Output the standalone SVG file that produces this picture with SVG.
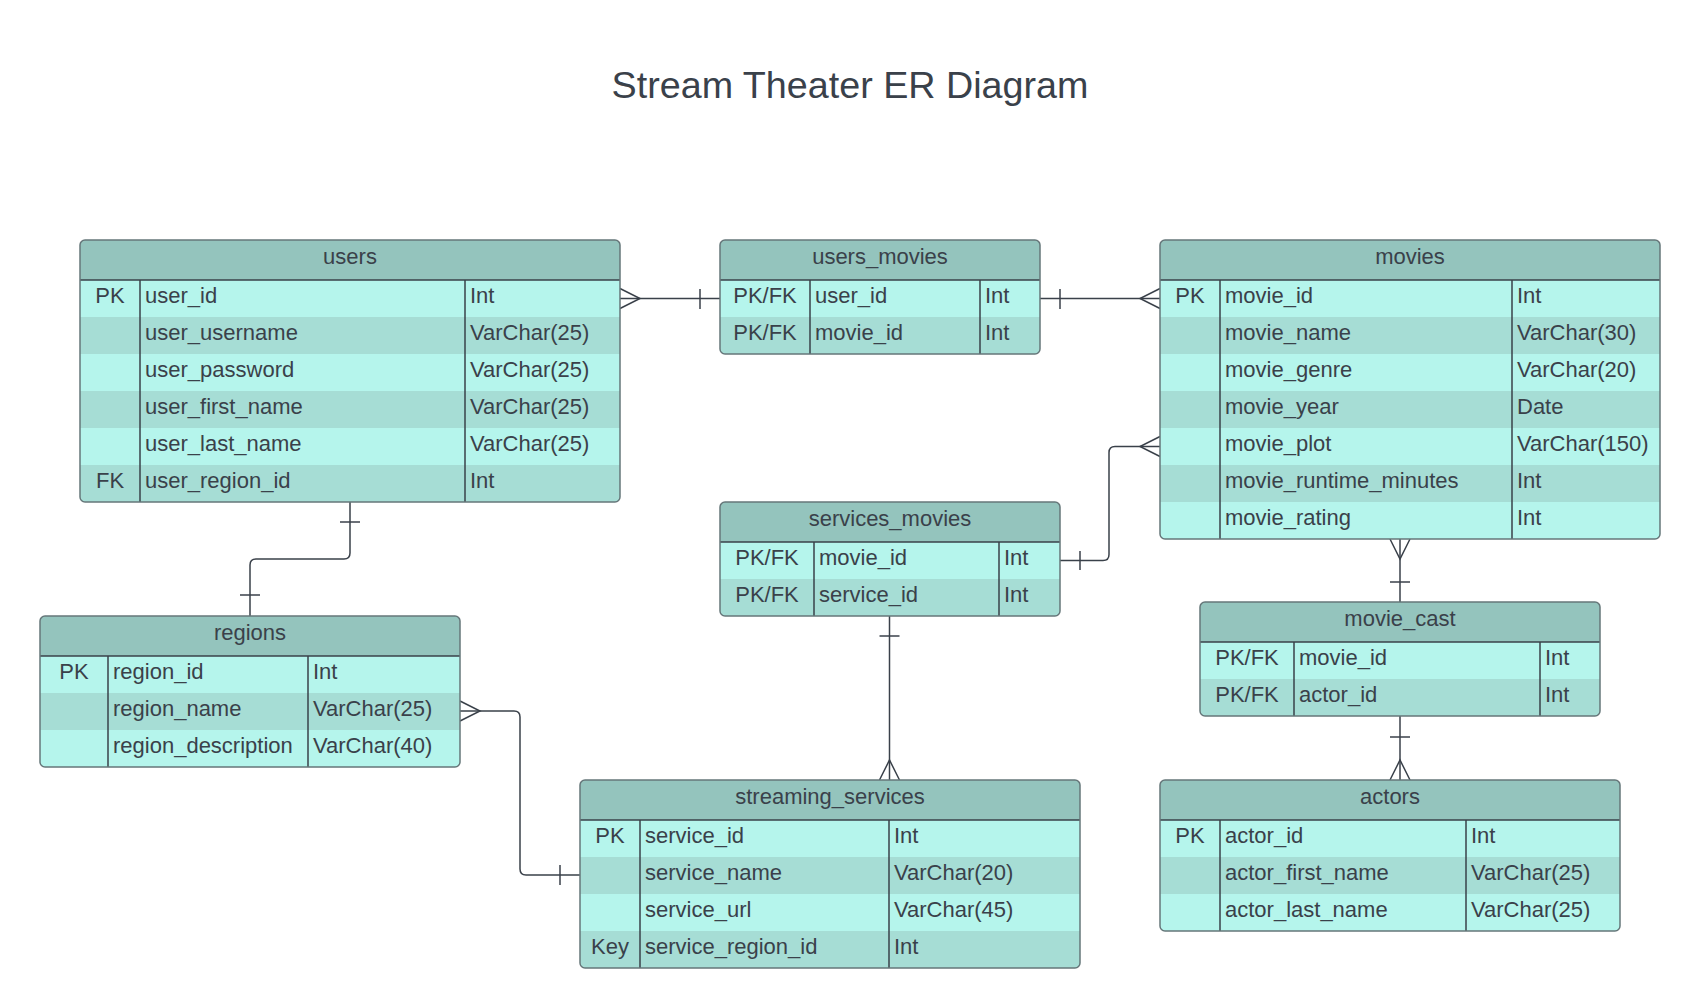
<svg xmlns="http://www.w3.org/2000/svg" width="1700" height="1008" viewBox="0 0 1700 1008">
<style>
.bg{fill:#ffffff}
.hdr{fill:#94c4bd}
.r1{fill:#b5f5ec}
.r2{fill:#a6ddd5}
.frame{fill:none;stroke:#66777a;stroke-width:1.5}
.dv{stroke:#3a414a;stroke-width:1.5;fill:none}
.t{font-family:"Liberation Sans",Arial,sans-serif;font-size:22px;fill:#3a414a}
.m{text-anchor:middle}
.title{font-family:"Liberation Sans",Arial,sans-serif;font-size:37.7px;fill:#3a414a;text-anchor:middle}
.conn{fill:none;stroke:#3a414a;stroke-width:1.5}
</style>
<defs>
<clipPath id="cu"><rect x="80" y="240" width="540" height="262" rx="5"/></clipPath>
<clipPath id="cum"><rect x="720" y="240" width="320" height="114" rx="5"/></clipPath>
<clipPath id="cmv"><rect x="1160" y="240" width="500" height="299" rx="5"/></clipPath>
<clipPath id="crg"><rect x="40" y="616" width="420" height="151" rx="5"/></clipPath>
<clipPath id="csm"><rect x="720" y="502" width="340" height="114" rx="5"/></clipPath>
<clipPath id="cmc"><rect x="1200" y="602" width="400" height="114" rx="5"/></clipPath>
<clipPath id="css"><rect x="580" y="780" width="500" height="188" rx="5"/></clipPath>
<clipPath id="cac"><rect x="1160" y="780" width="460" height="151" rx="5"/></clipPath>
</defs>
<rect class="bg" x="0" y="0" width="1700" height="1008"/>
<text class="title" x="850" y="97.5">Stream Theater ER Diagram</text>

<g id="connectors">
  <!-- users - users_movies -->
  <path class="conn" d="M620 298.5 H720"/>
  <path class="conn" d="M620 288.5 L640 298.5 L620 308.5"/>
  <path class="conn" d="M700 289 V309"/>
  <!-- users_movies - movies -->
  <path class="conn" d="M1040 298.5 H1160"/>
  <path class="conn" d="M1060 289 V309"/>
  <path class="conn" d="M1160 288.5 L1140 298.5 L1160 308.5"/>
  <!-- users - regions -->
  <path class="conn" d="M350 502 V553 Q350 559 344 559 H256 Q250 559 250 565 V616"/>
  <path class="conn" d="M340 522 H360"/>
  <path class="conn" d="M240 595 H260"/>
  <!-- regions - streaming_services -->
  <path class="conn" d="M460 711 H514 Q520 711 520 717 V869 Q520 875 526 875 H580"/>
  <path class="conn" d="M460 701 L480 711 L460 721"/>
  <path class="conn" d="M560 865 V885"/>
  <!-- services_movies - movies -->
  <path class="conn" d="M1060 560.5 H1103 Q1109 560.5 1109 554.5 V452.5 Q1109 446.5 1115 446.5 H1160"/>
  <path class="conn" d="M1080 551 V570"/>
  <path class="conn" d="M1160 436.5 L1140 446.5 L1160 456.5"/>
  <!-- services_movies - streaming_services -->
  <path class="conn" d="M889.5 616 V780"/>
  <path class="conn" d="M879.5 636 H899.5"/>
  <path class="conn" d="M879.5 780 L889.5 760 L899.5 780"/>
  <!-- movies - movie_cast -->
  <path class="conn" d="M1400 539 V602"/>
  <path class="conn" d="M1390 539 L1400 559 L1410 539"/>
  <path class="conn" d="M1390 582 H1410"/>
  <!-- movie_cast - actors -->
  <path class="conn" d="M1400 716 V780"/>
  <path class="conn" d="M1390 737 H1410"/>
  <path class="conn" d="M1390 780 L1400 760 L1410 780"/>
</g>

<g id="users">
  <g clip-path="url(#cu)">
    <rect class="hdr" x="80" y="240" width="540" height="40"/>
    <rect class="r1" x="80" y="280" width="540" height="37"/>
    <rect class="r2" x="80" y="317" width="540" height="37"/>
    <rect class="r1" x="80" y="354" width="540" height="37"/>
    <rect class="r2" x="80" y="391" width="540" height="37"/>
    <rect class="r1" x="80" y="428" width="540" height="37"/>
    <rect class="r2" x="80" y="465" width="540" height="37"/>
  </g>
  <path class="dv" d="M80 280 H620 M140 280 V502 M465 280 V502"/>
  <rect class="frame" x="80" y="240" width="540" height="262" rx="5"/>
  <text class="t m" x="350" y="264">users</text>
  <text class="t m" x="110" y="302.7">PK</text>
  <text class="t" x="145" y="302.7">user_id</text><text class="t" x="470" y="302.7">Int</text>
  <text class="t" x="145" y="339.7">user_username</text><text class="t" x="470" y="339.7">VarChar(25)</text>
  <text class="t" x="145" y="376.7">user_password</text><text class="t" x="470" y="376.7">VarChar(25)</text>
  <text class="t" x="145" y="413.7">user_first_name</text><text class="t" x="470" y="413.7">VarChar(25)</text>
  <text class="t" x="145" y="450.7">user_last_name</text><text class="t" x="470" y="450.7">VarChar(25)</text>
  <text class="t m" x="110" y="487.7">FK</text>
  <text class="t" x="145" y="487.7">user_region_id</text><text class="t" x="470" y="487.7">Int</text>
</g>

<g id="users_movies">
  <g clip-path="url(#cum)">
    <rect class="hdr" x="720" y="240" width="320" height="40"/>
    <rect class="r1" x="720" y="280" width="320" height="37"/>
    <rect class="r2" x="720" y="317" width="320" height="37"/>
  </g>
  <path class="dv" d="M720 280 H1040 M810 280 V354 M980 280 V354"/>
  <rect class="frame" x="720" y="240" width="320" height="114" rx="5"/>
  <text class="t m" x="880" y="264">users_movies</text>
  <text class="t m" x="765" y="302.7">PK/FK</text><text class="t" x="815" y="302.7">user_id</text><text class="t" x="985" y="302.7">Int</text>
  <text class="t m" x="765" y="339.7">PK/FK</text><text class="t" x="815" y="339.7">movie_id</text><text class="t" x="985" y="339.7">Int</text>
</g>

<g id="movies">
  <g clip-path="url(#cmv)">
    <rect class="hdr" x="1160" y="240" width="500" height="40"/>
    <rect class="r1" x="1160" y="280" width="500" height="37"/>
    <rect class="r2" x="1160" y="317" width="500" height="37"/>
    <rect class="r1" x="1160" y="354" width="500" height="37"/>
    <rect class="r2" x="1160" y="391" width="500" height="37"/>
    <rect class="r1" x="1160" y="428" width="500" height="37"/>
    <rect class="r2" x="1160" y="465" width="500" height="37"/>
    <rect class="r1" x="1160" y="502" width="500" height="37"/>
  </g>
  <path class="dv" d="M1160 280 H1660 M1220 280 V539 M1512 280 V539"/>
  <rect class="frame" x="1160" y="240" width="500" height="299" rx="5"/>
  <text class="t m" x="1410" y="264">movies</text>
  <text class="t m" x="1190" y="302.7">PK</text>
  <text class="t" x="1225" y="302.7">movie_id</text><text class="t" x="1517" y="302.7">Int</text>
  <text class="t" x="1225" y="339.7">movie_name</text><text class="t" x="1517" y="339.7">VarChar(30)</text>
  <text class="t" x="1225" y="376.7">movie_genre</text><text class="t" x="1517" y="376.7">VarChar(20)</text>
  <text class="t" x="1225" y="413.7">movie_year</text><text class="t" x="1517" y="413.7">Date</text>
  <text class="t" x="1225" y="450.7">movie_plot</text><text class="t" x="1517" y="450.7">VarChar(150)</text>
  <text class="t" x="1225" y="487.7">movie_runtime_minutes</text><text class="t" x="1517" y="487.7">Int</text>
  <text class="t" x="1225" y="524.7">movie_rating</text><text class="t" x="1517" y="524.7">Int</text>
</g>

<g id="regions">
  <g clip-path="url(#crg)">
    <rect class="hdr" x="40" y="616" width="420" height="40"/>
    <rect class="r1" x="40" y="656" width="420" height="37"/>
    <rect class="r2" x="40" y="693" width="420" height="37"/>
    <rect class="r1" x="40" y="730" width="420" height="37"/>
  </g>
  <path class="dv" d="M40 656 H460 M108 656 V767 M308 656 V767"/>
  <rect class="frame" x="40" y="616" width="420" height="151" rx="5"/>
  <text class="t m" x="250" y="640">regions</text>
  <text class="t m" x="74" y="678.7">PK</text>
  <text class="t" x="113" y="678.7">region_id</text><text class="t" x="313" y="678.7">Int</text>
  <text class="t" x="113" y="715.7">region_name</text><text class="t" x="313" y="715.7">VarChar(25)</text>
  <text class="t" x="113" y="752.7">region_description</text><text class="t" x="313" y="752.7">VarChar(40)</text>
</g>

<g id="services_movies">
  <g clip-path="url(#csm)">
    <rect class="hdr" x="720" y="502" width="340" height="40"/>
    <rect class="r1" x="720" y="542" width="340" height="37"/>
    <rect class="r2" x="720" y="579" width="340" height="37"/>
  </g>
  <path class="dv" d="M720 542 H1060 M814 542 V616 M999 542 V616"/>
  <rect class="frame" x="720" y="502" width="340" height="114" rx="5"/>
  <text class="t m" x="890" y="526">services_movies</text>
  <text class="t m" x="767" y="564.7">PK/FK</text><text class="t" x="819" y="564.7">movie_id</text><text class="t" x="1004" y="564.7">Int</text>
  <text class="t m" x="767" y="601.7">PK/FK</text><text class="t" x="819" y="601.7">service_id</text><text class="t" x="1004" y="601.7">Int</text>
</g>

<g id="movie_cast">
  <g clip-path="url(#cmc)">
    <rect class="hdr" x="1200" y="602" width="400" height="40"/>
    <rect class="r1" x="1200" y="642" width="400" height="37"/>
    <rect class="r2" x="1200" y="679" width="400" height="37"/>
  </g>
  <path class="dv" d="M1200 642 H1600 M1294 642 V716 M1540 642 V716"/>
  <rect class="frame" x="1200" y="602" width="400" height="114" rx="5"/>
  <text class="t m" x="1400" y="626">movie_cast</text>
  <text class="t m" x="1247" y="664.7">PK/FK</text><text class="t" x="1299" y="664.7">movie_id</text><text class="t" x="1545" y="664.7">Int</text>
  <text class="t m" x="1247" y="701.7">PK/FK</text><text class="t" x="1299" y="701.7">actor_id</text><text class="t" x="1545" y="701.7">Int</text>
</g>

<g id="streaming_services">
  <g clip-path="url(#css)">
    <rect class="hdr" x="580" y="780" width="500" height="40"/>
    <rect class="r1" x="580" y="820" width="500" height="37"/>
    <rect class="r2" x="580" y="857" width="500" height="37"/>
    <rect class="r1" x="580" y="894" width="500" height="37"/>
    <rect class="r2" x="580" y="931" width="500" height="37"/>
  </g>
  <path class="dv" d="M580 820 H1080 M640 820 V968 M889 820 V968"/>
  <rect class="frame" x="580" y="780" width="500" height="188" rx="5"/>
  <text class="t m" x="830" y="804">streaming_services</text>
  <text class="t m" x="610" y="842.7">PK</text>
  <text class="t" x="645" y="842.7">service_id</text><text class="t" x="894" y="842.7">Int</text>
  <text class="t" x="645" y="879.7">service_name</text><text class="t" x="894" y="879.7">VarChar(20)</text>
  <text class="t" x="645" y="916.7">service_url</text><text class="t" x="894" y="916.7">VarChar(45)</text>
  <text class="t m" x="610" y="953.7">Key</text>
  <text class="t" x="645" y="953.7">service_region_id</text><text class="t" x="894" y="953.7">Int</text>
</g>

<g id="actors">
  <g clip-path="url(#cac)">
    <rect class="hdr" x="1160" y="780" width="460" height="40"/>
    <rect class="r1" x="1160" y="820" width="460" height="37"/>
    <rect class="r2" x="1160" y="857" width="460" height="37"/>
    <rect class="r1" x="1160" y="894" width="460" height="37"/>
  </g>
  <path class="dv" d="M1160 820 H1620 M1220 820 V931 M1466 820 V931"/>
  <rect class="frame" x="1160" y="780" width="460" height="151" rx="5"/>
  <text class="t m" x="1390" y="804">actors</text>
  <text class="t m" x="1190" y="842.7">PK</text>
  <text class="t" x="1225" y="842.7">actor_id</text><text class="t" x="1471" y="842.7">Int</text>
  <text class="t" x="1225" y="879.7">actor_first_name</text><text class="t" x="1471" y="879.7">VarChar(25)</text>
  <text class="t" x="1225" y="916.7">actor_last_name</text><text class="t" x="1471" y="916.7">VarChar(25)</text>
</g>
</svg>
